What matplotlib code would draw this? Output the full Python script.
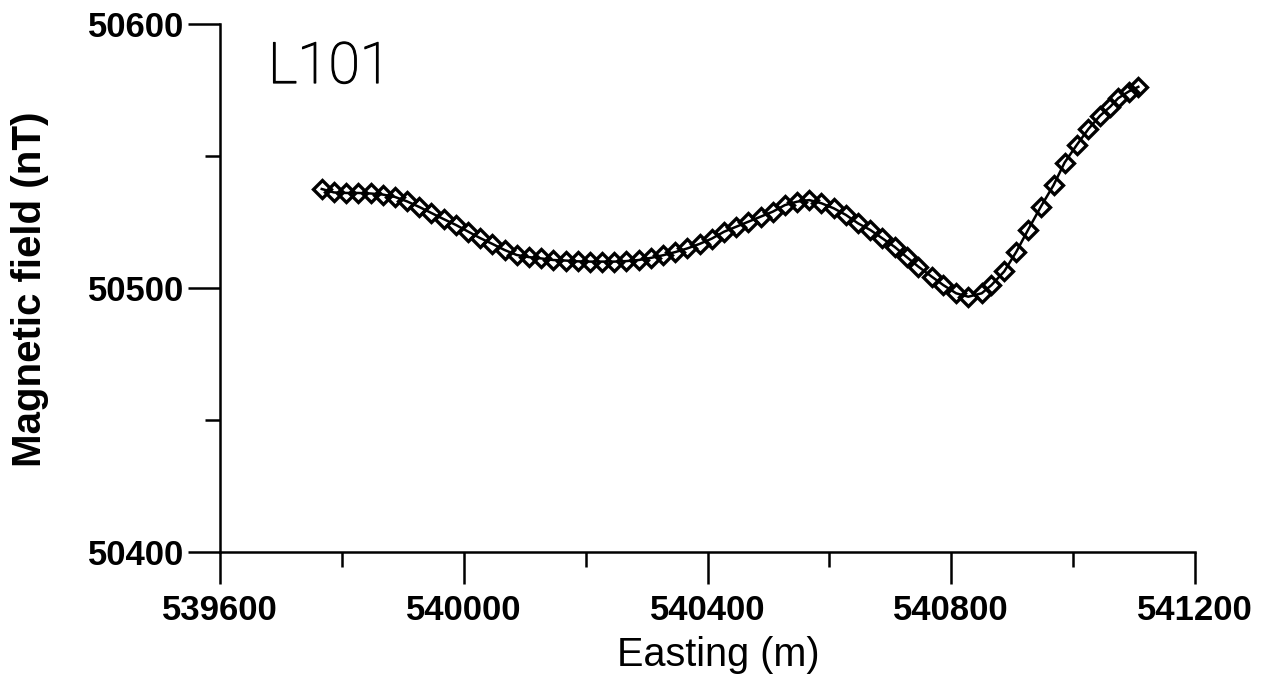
import matplotlib
matplotlib.use("Agg")
import matplotlib.pyplot as plt
import matplotlib.patheffects as pe
from matplotlib.ticker import MultipleLocator, FuncFormatter

# Data (Easting in m, total magnetic field in nT)
easting = [539767, 539787, 539807, 539827, 539847, 539867, 539887, 539907,
           539927, 539947, 539967, 539987, 540007, 540027, 540047, 540067,
           540087, 540107, 540127, 540147, 540167, 540187, 540207, 540227,
           540247, 540267, 540287, 540307, 540327, 540347, 540367, 540387,
           540407, 540427, 540447, 540467, 540487, 540507, 540527, 540547,
           540567, 540587, 540607, 540627, 540647, 540667, 540687, 540707,
           540727, 540746, 540768, 540787, 540808, 540828, 540850, 540866,
           540887, 540907, 540926, 540947, 540968, 540986, 541006, 541025,
           541044, 541061, 541074, 541091, 541107]
field = [50537.5, 50536.2, 50536.0, 50536.0, 50535.8, 50535.4, 50534.5, 50532.8,
         50530.7, 50528.4, 50526.1, 50523.9, 50521.4, 50518.9, 50516.7, 50514.4,
         50512.5, 50511.7, 50511.2, 50510.6, 50510.4, 50510.1, 50510.0, 50510.0,
         50510.0, 50510.2, 50510.6, 50511.4, 50512.4, 50513.6, 50515.0, 50516.7,
         50518.7, 50521.3, 50523.2, 50525.1, 50527.0, 50528.9, 50531.4, 50532.7,
         50533.3, 50532.1, 50530.2, 50527.7, 50524.5, 50522.0, 50518.8, 50515.6,
         50511.7, 50508.1, 50504.3, 50501.1, 50498.0, 50496.7, 50498.0, 50501.1,
         50506.3, 50513.8, 50522.0, 50530.8, 50539.0, 50547.5, 50554.2, 50560.2,
         50565.2, 50568.7, 50571.9, 50574.4, 50576.2]

line_name = "L101"
x_label = "Easting (m)"
y_label = "Magnetic field (nT)"
x_major = 400
x_minor = 200
y_major = 100
y_minor = 50
x_range = (539600, 541200)
y_range = (50400, 50600)

W, H = 1274, 682
fig = plt.figure(figsize=(W / 100, H / 100), dpi=100)
fig.patch.set_facecolor("white")

left, right, top, bottom = 220, 1195, 24, 552
ax = fig.add_axes([left / W, 1 - bottom / H, (right - left) / W, (bottom - top) / H])

ax.plot(easting, field, color="black", lw=1.8, marker="D", ms=8.8,
        mfc="none", mec="black", mew=2.4, clip_on=False)

ax.set_xlim(*x_range)
ax.set_ylim(*y_range)

for s in ["top", "right"]:
    ax.spines[s].set_visible(False)
for s in ["left", "bottom"]:
    ax.spines[s].set_linewidth(1.8)

ax.xaxis.set_major_locator(MultipleLocator(x_major))
ax.xaxis.set_minor_locator(MultipleLocator(x_minor))
ax.yaxis.set_major_locator(MultipleLocator(y_major))
ax.yaxis.set_minor_locator(MultipleLocator(y_minor))

ax.tick_params(axis="both", which="major", direction="out", length=23, width=1.8,
               color="black")
ax.tick_params(axis="both", which="minor", direction="out", length=11, width=1.8,
               color="black")
ax.tick_params(axis="x", which="major", pad=7)
ax.tick_params(axis="y", which="major", pad=3)

ax.xaxis.set_major_formatter(FuncFormatter(lambda v, p: f"{int(v)}"))
ax.yaxis.set_major_formatter(FuncFormatter(lambda v, p: f"{int(v)}"))
for lab in ax.get_xticklabels() + ax.get_yticklabels():
    lab.set_fontfamily("Liberation Sans")
    lab.set_fontweight("bold")
    lab.set_fontsize(25)

fig.text(718 / W, 1 - 655 / H, x_label, family="Liberation Sans", fontsize=28.5,
         ha="center", va="center")
fig.text(30 / W, 1 - 289 / H, y_label, family="Liberation Sans", fontsize=29,
         fontweight="bold", rotation=90, ha="center", va="center")

ax.text(268 / W, 1 - 83 / H, line_name, transform=fig.transFigure,
        family="Roboto", fontweight="light", fontsize=41, ha="left", va="baseline",
        color="black",
        path_effects=[pe.withStroke(linewidth=0.9, foreground="black")])

fig.savefig("out.png", dpi=100, facecolor="white")
